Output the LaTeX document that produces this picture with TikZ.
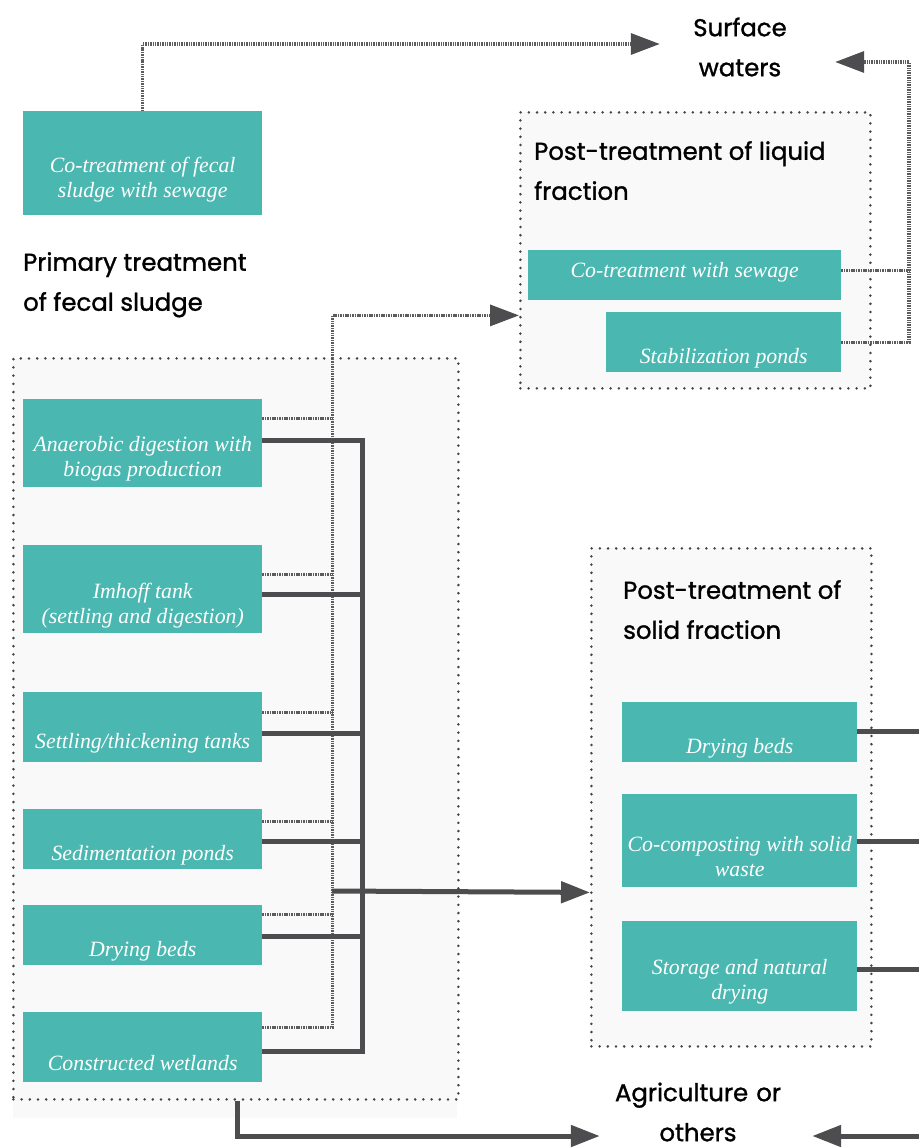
\documentclass[tikz,border=0pt]{standalone}
\usepackage{fontspec}
\setmainfont{Liberation Serif}
\newfontfamily\headfont{Poppins}[FakeBold=1.2]
\usetikzlibrary{arrows.meta,positioning}

\definecolor{boxteal}{HTML}{4AB7B0}
\definecolor{linegray}{HTML}{4D4D4F}
\definecolor{hashgray}{HTML}{5C5C5C}
\definecolor{dotgray}{HTML}{444444}
\definecolor{regionfill}{HTML}{F9F9F9}

\tikzset{
  stage/.style={fill=boxteal, inner sep=0, anchor=north west},
  stagetext/.style={font=\fontsize{21.8}{25}\selectfont\itshape, text=white, align=center, yshift=-16},
  region/.style={draw=dotgray, fill=regionfill, line width=2.8, dash pattern=on 0pt off 8.2pt, line cap=round, inner sep=0, anchor=north west},
  heading/.style={font=\headfont\fontsize{24.4}{40}\selectfont, align=left, inner sep=0, anchor=north west},
  outlet/.style={font=\headfont\fontsize{24.4}{40}\selectfont, align=center, inner sep=0, text width=#1},
  hashline/.style={draw=hashgray, line width=3.4, dash pattern=on 1.5pt off 0.9pt},
  flowline/.style={draw=linegray, line width=5},
  bigtip/.style={-{Triangle[length=29pt,width=21pt,color=linegray]}},
}

\begin{document}
\begin{tikzpicture}[x=1pt,y=-1pt]
  \useasboundingbox (0,0) rectangle (919,1148);

  % regions
  \fill[regionfill] (13,1090) rectangle (457,1118);
  \node[region, minimum width=445, minimum height=741] (primary) at (12,357) {};
  \node[region, minimum width=350, minimum height=276] (liquid) at (519,111) {};
  \node[region, minimum width=280, minimum height=498] (solid) at (590,547) {};

  % headings
  \node[heading] (primtitle) at (23,252) {Primary treatment\\of fecal sludge};
  \node[heading] (liqtitle) at (534,141) {Post-treatment of liquid\\fraction};
  \node[heading] (soltitle) at (623,580) {Post-treatment of\\solid fraction};
  \node[outlet=160] (surface) at (740,47) {Surface\\waters};
  \node[outlet=196] (agri) at (698,1112) {Agriculture or\\others};

  % treatment boxes
  \node[stage, minimum width=239, minimum height=104, label={[stagetext]center:{Co-treatment of fecal\\sludge with sewage}}] (cofecal) at (23,111) {};
  \node[stage, minimum width=239, minimum height=88, label={[stagetext]center:{Anaerobic digestion with\\biogas production}}] (anaer) at (23,399) {};
  \node[stage, minimum width=239, minimum height=88, label={[stagetext]center:{Imhoff tank\\(settling and digestion)}}] (imhoff) at (23,545) {};
  \node[stage, minimum width=239, minimum height=70, label={[stagetext]center:{Settling/thickening tanks}}] (settle) at (23,692) {};
  \node[stage, minimum width=239, minimum height=60, label={[stagetext]center:{Sedimentation ponds}}] (sedpond) at (23,809) {};
  \node[stage, minimum width=239, minimum height=60, label={[stagetext]center:{Drying beds}}] (drybed) at (23,905) {};
  \node[stage, minimum width=239, minimum height=70, label={[stagetext]center:{Constructed wetlands}}] (wetland) at (23,1012) {};

  \node[stage, minimum width=313, minimum height=50, label={[stagetext,yshift=19]center:{Co-treatment with sewage}}] (cosewage) at (528,250) {};
  \node[stage, minimum width=235, minimum height=60, label={[stagetext]center:{Stabilization ponds}}] (stabpond) at (606,312) {};

  \node[stage, minimum width=235, minimum height=60, label={[stagetext]center:{Drying beds}}] (soldry) at (622,702) {};
  \node[stage, minimum width=235, minimum height=93, label={[stagetext]center:{Co-composting with solid\\waste}}] (cocompost) at (622,794) {};
  \node[stage, minimum width=235, minimum height=90, label={[stagetext]center:{Storage and natural\\drying}}] (storage) at (622,921) {};

  \coordinate (rbend) at (909,62);
  \coordinate (sbus) at (362,891);

  % liquid fraction (hatched)
  \draw[hashline, bigtip] (cofecal.north) |- ([yshift=3]surface.west);
  \foreach \b/\d in {anaer/25, imhoff/15, settle/15, sedpond/18, drybed/21}
    \draw[hashline] ([yshift=\d]\b.east) -- ++(70,0);
  \draw[hashline, bigtip] ([yshift=20]wetland.east) -- ++(70,0) |- ([yshift=-65]liquid.west);
  \draw[hashline] ([yshift=5]cosewage.east) -- ([yshift=5]cosewage.east -| rbend);
  \draw[hashline, bigtip] (stabpond.east) -| (rbend) -- ([xshift=15,yshift=-15]surface.east);

  % solid fraction
  \foreach \b/\d in {imhoff/-5, settle/-6, sedpond/-2, drybed/-1}
    \draw[flowline] ([yshift=\d]\b.east) -- ++(100,0);
  \draw[flowline] ([yshift=3]anaer.east) -- ++(100,0) |- ([yshift=-4]wetland.east);
  \draw[flowline, bigtip] ([xshift=-30]sbus) -- ([yshift=-95]solid.west);
  \draw[flowline] ([yshift=1]soldry.east) -- ++(62,0);
  \draw[flowline] ([yshift=-1]cocompost.east) -- ++(62,0);
  \draw[flowline] ([yshift=-3]storage.east) -- ++(62,0);

  % to agriculture
  \draw[flowline, bigtip] ([xshift=2]primary.south) |- ([yshift=-24]agri.west);
  \draw[flowline, bigtip] ([xshift=123,yshift=-24]agri.east) -- ([xshift=16,yshift=-24]agri.east);
\end{tikzpicture}
\end{document}
